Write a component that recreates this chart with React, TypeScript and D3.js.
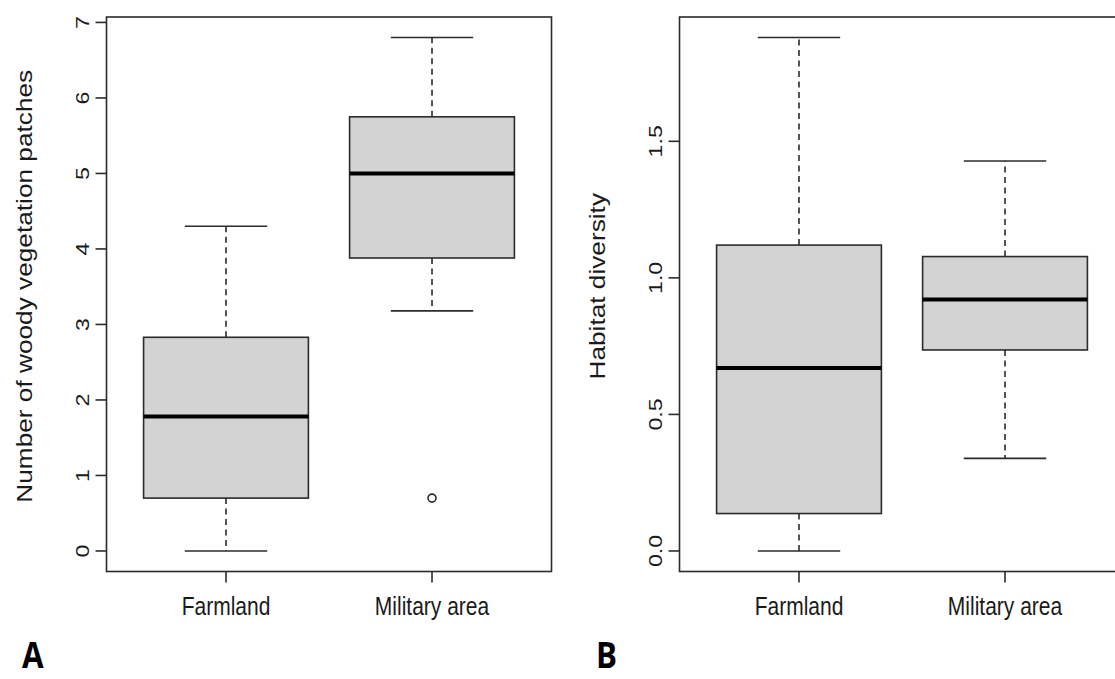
import React from "react";
import * as d3 from "d3";

const categories = ["Farmland", "Military area"];

// five-number summaries: [lower whisker, Q1, median, Q3, upper whisker]
const patchesFarmland = [0, 0.7, 1.78, 2.83, 4.3];
const patchesMilitary = [3.18, 3.88, 5.0, 5.75, 6.8];
const patchesOutliers = [[], [0.7]];
const patchesTicks = [0, 1, 2, 3, 4, 5, 6, 7];

const diversityFarmland = [0, 0.137, 0.67, 1.12, 1.88];
const diversityMilitary = [0.339, 0.736, 0.921, 1.078, 1.428];
const diversityOutliers = [[], []];
const diversityTicks = [0, 0.5, 1.0, 1.5];

const FONT = "'Liberation Sans', Arial, Helvetica, sans-serif";
const STROKE = "#2b2b2b";
const S = 1.22; // vertical stretch of the original figure

type PanelProps = {
  left: number;
  stats: number[][];
  outliers: number[][];
  ticks: number[];
  tickFmt: (v: number) => string;
  yTitle: string;
  letter: string;
  letterX: number;
};

function Panel({ left, stats, outliers, ticks, tickFmt, yTitle, letter, letterX }: PanelProps) {
  const top = 17;
  const bottom = 571.5;
  const width = 445;
  const allVals = stats.flat().concat(outliers.flat());
  const [lo, hi] = d3.extent(allVals) as [number, number];
  const pad = (hi - lo) * 0.04;
  const y = d3.scaleLinear().domain([lo - pad, hi + pad]).range([bottom, top]);
  const x = d3.scaleLinear().domain([0.42, 2.58]).range([left, left + width]);
  const boxHalf = x(1.4) - x(1);
  const capHalf = x(1.2) - x(1);
  const midY = (top + bottom) / 2 - 8;

  return (
    <g>
      {stats.map((s, i) => {
        const cx = x(i + 1);
        return (
          <g key={i}>
            <line x1={cx} x2={cx} y1={y(s[3])} y2={y(s[4])} stroke={STROKE} strokeWidth={1.6} strokeDasharray="6,4.5" />
            <line x1={cx} x2={cx} y1={y(s[1])} y2={y(s[0])} stroke={STROKE} strokeWidth={1.6} strokeDasharray="6,4.5" />
            <line x1={cx - capHalf} x2={cx + capHalf} y1={y(s[4])} y2={y(s[4])} stroke={STROKE} strokeWidth={1.6} />
            <line x1={cx - capHalf} x2={cx + capHalf} y1={y(s[0])} y2={y(s[0])} stroke={STROKE} strokeWidth={1.6} />
            <rect x={cx - boxHalf} y={y(s[3])} width={boxHalf * 2} height={y(s[1]) - y(s[3])} fill="#d3d3d3" stroke={STROKE} strokeWidth={1.6} />
            <line x1={cx - boxHalf} x2={cx + boxHalf} y1={y(s[2])} y2={y(s[2])} stroke="#000" strokeWidth={4} />
            {outliers[i].map((o, j) => (
              <circle key={j} cx={cx} cy={y(o)} r={4} fill="none" stroke={STROKE} strokeWidth={1.6} />
            ))}
          </g>
        );
      })}
      <rect x={left} y={top} width={width} height={bottom - top} fill="none" stroke={STROKE} strokeWidth={1.6} />
      {ticks.map((t) => (
        <g key={t}>
          <line x1={left} x2={left - 11} y1={y(t)} y2={y(t)} stroke={STROKE} strokeWidth={1.6} />
          <text
            transform={`translate(${left - 24},${y(t)}) rotate(-90) scale(${S},1)`}
            textAnchor="middle"
            dominantBaseline="central"
            fontFamily={FONT}
            fontSize={19}
            fill="#1a1a1a"
          >
            {tickFmt(t)}
          </text>
        </g>
      ))}
      {categories.map((c, i) => (
        <g key={c}>
          <line x1={x(i + 1)} x2={x(i + 1)} y1={bottom} y2={bottom + 11} stroke={STROKE} strokeWidth={1.6} />
          <text
            transform={`translate(${x(i + 1)},615) scale(1,${S})`}
            textAnchor="middle"
            fontFamily={FONT}
            fontSize={21}
            fill="#1a1a1a"
          >
            {c}
          </text>
        </g>
      ))}
      <text
        transform={`translate(${left - 82},${midY}) rotate(-90) scale(${S},1)`}
        textAnchor="middle"
        dominantBaseline="central"
        fontFamily={FONT}
        fontSize={21.5}
        fill="#1a1a1a"
      >
        {yTitle}
      </text>
      <text
        transform={`translate(${letterX},668) scale(1.08,1.25)`}
        fontFamily="'Open Sans', 'Noto Sans', sans-serif"
        fontWeight={700}
        fontSize={29}
        fill="#000"
      >
        {letter}
      </text>
    </g>
  );
}

export default function App() {
  return (
    <svg width={1115} height={679} style={{ position: "absolute", left: 0, top: 0, background: "#fff" }}>
      <rect x={0} y={0} width={1115} height={679} fill="#fff" />
      <Panel
        left={106.5}
        stats={[patchesFarmland, patchesMilitary]}
        outliers={patchesOutliers}
        ticks={patchesTicks}
        tickFmt={(v) => d3.format("d")(v)}
        yTitle="Number of woody vegetation patches"
        letter="A"
        letterX={22}
      />
      <Panel
        left={679.5}
        stats={[diversityFarmland, diversityMilitary]}
        outliers={diversityOutliers}
        ticks={diversityTicks}
        tickFmt={(v) => d3.format(".1f")(v)}
        yTitle="Habitat diversity"
        letter="B"
        letterX={596}
      />
    </svg>
  );
}
